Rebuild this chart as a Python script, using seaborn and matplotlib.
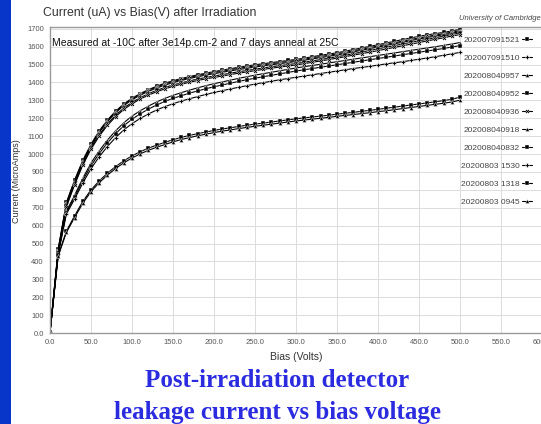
import numpy as np
import pandas as pd
import matplotlib
matplotlib.use("Agg")
import matplotlib.pyplot as plt
import matplotlib.ticker as mticker
from matplotlib.patches import Rectangle
import seaborn as sns

# ---------------- data ----------------
bias = list(range(0, 510, 10))

run_labels = ["202007091521", "202007091510", "202008040957", "202008040952",
              "202008040936", "202008040918", "202008040832", "20200803 1530",
              "20200803 1318", "20200803 0945"]

s1 = [5, 470, 730, 855, 965, 1055, 1130, 1190, 1240, 1280,
      1312, 1338, 1360, 1379, 1396, 1410, 1422, 1433, 1443, 1452,
      1461, 1469, 1477, 1485, 1492, 1499, 1505, 1511, 1517, 1523,
      1529, 1536, 1544, 1552, 1559, 1566, 1575, 1584, 1593, 1602,
      1611, 1621, 1630, 1640, 1649, 1658, 1666, 1673, 1680, 1688, 1697]
s2 = [4, 465, 725, 850, 960, 1050, 1125, 1186, 1236, 1276,
      1308, 1334, 1356, 1375, 1391, 1405, 1417, 1428, 1438, 1447,
      1455, 1463, 1471, 1479, 1486, 1493, 1499, 1505, 1511, 1517,
      1523, 1530, 1538, 1545, 1552, 1560, 1568, 1577, 1586, 1595,
      1604, 1613, 1622, 1631, 1640, 1649, 1657, 1665, 1673, 1681, 1690]
s3 = [4, 460, 720, 845, 955, 1045, 1120, 1181, 1231, 1271,
      1303, 1329, 1350, 1369, 1385, 1399, 1411, 1422, 1432, 1441,
      1449, 1457, 1465, 1472, 1479, 1486, 1493, 1499, 1505, 1511,
      1517, 1524, 1532, 1539, 1546, 1554, 1562, 1571, 1580, 1589,
      1598, 1607, 1616, 1625, 1634, 1643, 1651, 1659, 1667, 1675, 1684]
s4 = [4, 455, 712, 835, 945, 1035, 1108, 1168, 1217, 1257,
      1289, 1315, 1337, 1356, 1372, 1386, 1398, 1409, 1419, 1428,
      1436, 1444, 1452, 1460, 1467, 1474, 1481, 1488, 1494, 1500,
      1506, 1513, 1521, 1528, 1536, 1544, 1552, 1561, 1570, 1579,
      1588, 1597, 1606, 1615, 1624, 1633, 1641, 1650, 1659, 1668, 1677]
s5 = [4, 450, 705, 828, 938, 1027, 1100, 1160, 1209, 1249,
      1281, 1307, 1329, 1348, 1364, 1378, 1390, 1401, 1411, 1420,
      1428, 1436, 1444, 1452, 1459, 1466, 1473, 1480, 1486, 1492,
      1498, 1505, 1513, 1520, 1528, 1536, 1544, 1553, 1561, 1569,
      1578, 1587, 1596, 1605, 1614, 1623, 1632, 1641, 1650, 1659, 1668]
s6 = [4, 450, 680, 770, 865, 950, 1018, 1078, 1130, 1175,
      1212, 1242, 1268, 1291, 1311, 1328, 1343, 1357, 1370, 1382,
      1393, 1403, 1413, 1423, 1432, 1441, 1449, 1457, 1465, 1473,
      1481, 1488, 1495, 1502, 1509, 1516, 1523, 1530, 1537, 1544,
      1551, 1558, 1565, 1572, 1579, 1586, 1593, 1600, 1607, 1615, 1623]
s7 = [4, 445, 672, 760, 852, 935, 1003, 1062, 1114, 1158,
      1195, 1225, 1251, 1274, 1294, 1311, 1326, 1340, 1353, 1365,
      1376, 1386, 1396, 1406, 1415, 1424, 1432, 1440, 1448, 1456,
      1464, 1471, 1478, 1485, 1492, 1499, 1506, 1513, 1520, 1527,
      1534, 1541, 1548, 1555, 1562, 1569, 1576, 1583, 1590, 1598, 1606]
s8 = [4, 440, 665, 748, 838, 918, 985, 1042, 1092, 1135,
      1170, 1199, 1224, 1246, 1265, 1281, 1296, 1309, 1321, 1333,
      1344, 1354, 1364, 1373, 1382, 1391, 1399, 1407, 1415, 1422,
      1429, 1436, 1443, 1450, 1457, 1464, 1471, 1478, 1484, 1490,
      1497, 1504, 1510, 1516, 1523, 1530, 1537, 1544, 1552, 1560, 1568]
s9 = [4, 435, 570, 655, 735, 800, 850, 893, 930, 962,
      990, 1013, 1033, 1050, 1065, 1080, 1093, 1104, 1114, 1123,
      1132, 1140, 1147, 1154, 1161, 1167, 1173, 1179, 1185, 1191,
      1197, 1202, 1207, 1212, 1217, 1223, 1228, 1233, 1239, 1244,
      1250, 1256, 1262, 1268, 1274, 1280, 1286, 1292, 1299, 1306, 1318]
s10 = [4, 430, 562, 645, 725, 790, 840, 882, 919, 951,
       978, 1001, 1021, 1038, 1053, 1068, 1081, 1092, 1102, 1111,
       1120, 1128, 1135, 1142, 1149, 1155, 1161, 1167, 1173, 1179,
       1185, 1190, 1195, 1200, 1205, 1211, 1216, 1221, 1226, 1231,
       1237, 1242, 1248, 1254, 1260, 1266, 1272, 1278, 1284, 1291, 1301]

series = [s1, s2, s3, s4, s5, s6, s7, s8, s9, s10]

x_ticks = list(range(0, 650, 50))
y_ticks = list(range(0, 1800, 100))

# ---------------- styling ----------------
sns.set_style("whitegrid", {"grid.color": "#d9d9d9", "axes.edgecolor": "#9a9a9a"})
plt.rcParams['font.family'] = ['Liberation Sans', 'DejaVu Sans']

W, H = 541, 424
fig = plt.figure(figsize=(W / 100, H / 100), dpi=100)
fig.patch.set_facecolor("white")
fig.patches.append(Rectangle((0, 0), 11 / W, 1, transform=fig.transFigure,
                             facecolor="#0736c8", edgecolor="none", zorder=0))

ax = fig.add_axes([50 / W, (H - 333) / H, 492 / W, (333 - 27) / H])

df = pd.DataFrame({
    "Bias": np.tile(bias, len(series)),
    "Current": np.concatenate([np.asarray(s, dtype=float) for s in series]),
    "Run": np.repeat(run_labels, len(bias)),
})

marker_list = ["s", "P", "^", "s", "X", "^", "s", "P", "s", "^"]
sns.lineplot(data=df, x="Bias", y="Current", hue="Run", style="Run",
             hue_order=run_labels, style_order=run_labels,
             palette=["black"] * len(run_labels), markers=marker_list,
             dashes=False, linewidth=0.8, markersize=2.9, markeredgewidth=0.3,
             ax=ax, legend=True, sort=False, estimator=None)

ax.set_xlim(0, 600)
ax.set_ylim(0, 1710)
ax.set_xticks(x_ticks)
ax.set_yticks(y_ticks)
ax.xaxis.set_major_formatter(mticker.FuncFormatter(lambda v, p: f"{v:.1f}"))
ax.yaxis.set_major_formatter(mticker.FuncFormatter(lambda v, p: "0.0" if v == 0 else f"{int(v)}"))
ax.tick_params(axis="both", which="major", length=3, width=0.6, color="#8a8a8a",
               labelsize=5.5, labelcolor="#555555", pad=1.5, direction="out")
ax.grid(True, color="#dcdcdc", linewidth=0.7)
for sp in ax.spines.values():
    sp.set_color("#9a9a9a")
    sp.set_linewidth(1.0)
ax.set_xlabel("")
ax.set_ylabel("")

handles, labels = ax.get_legend_handles_labels()
leg = ax.legend(handles, labels, loc="upper left",
                bbox_to_anchor=(461 / W, 1 - 36 / H), bbox_transform=fig.transFigure,
                frameon=False, markerfirst=False, fontsize=6, labelspacing=1.22,
                handlelength=1.2, handletextpad=0.3, borderpad=0, borderaxespad=0)
for t in leg.get_texts():
    t.set_color("#444444")

# texts
fig.text(43 / W, 1 - 13 / H, "Current (uA) vs Bias(V) after Irradiation",
         fontsize=8.8, color="#333333", va="center", ha="left")
fig.text(459 / W, 1 - 19 / H, "University of Cambridge", fontsize=5.5,
         style="italic", color="#444444", va="center", ha="left")
fig.text(52 / W, 1 - 43 / H, "Measured at -10C after 3e14p.cm-2 and 7 days anneal at 25C",
         fontsize=7.5, color="#111111", va="center", ha="left")
fig.text(296 / W, 1 - 357 / H, "Bias (Volts)", fontsize=7.5, color="#333333",
         va="center", ha="center")
fig.text(17 / W, 1 - 181 / H, "Current (MicroAmps)", fontsize=6.5, color="#333333",
         va="center", ha="center", rotation=90)

fig.text(277 / W, 1 - 387 / H, "Post-irradiation detector", fontsize=18,
         family=["Liberation Serif", "DejaVu Serif"], fontweight="bold",
         color="#2b2be0", va="baseline", ha="center")
fig.text(277 / W, 1 - 419 / H, "leakage current vs bias voltage", fontsize=18,
         family=["Liberation Serif", "DejaVu Serif"], fontweight="bold",
         color="#2b2be0", va="baseline", ha="center")

fig.savefig("out.png", dpi=100, facecolor="white")
